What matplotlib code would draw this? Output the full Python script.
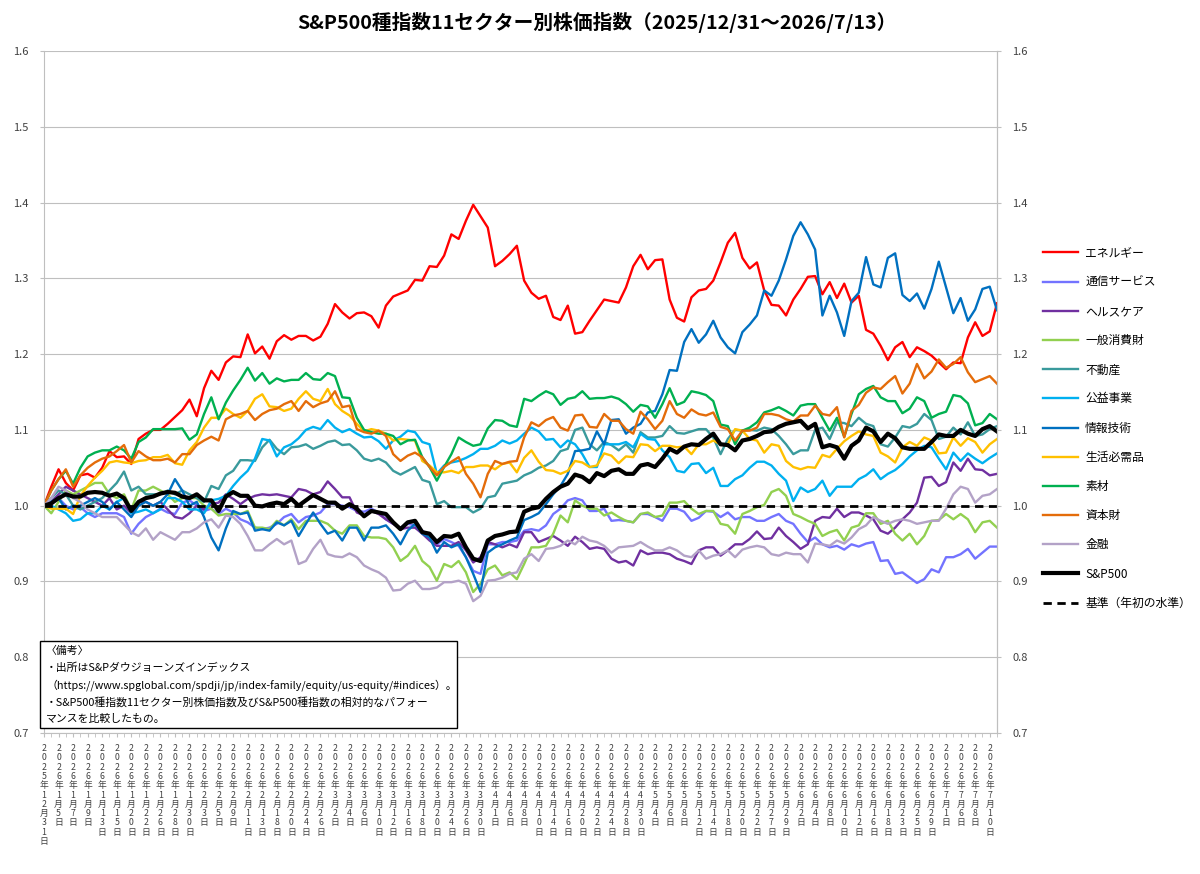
import matplotlib
matplotlib.use("Agg")
import matplotlib.pyplot as plt
from matplotlib.patches import Rectangle

plt.rcParams['font.family'] = ['Noto Sans CJK JP', 'DejaVu Sans']

# trading-day labels shown on the axis (every 2nd trading day, 132 days in total)
date_labels = [
    "2025年12月31日", "2026年1月5日", "2026年1月7日", "2026年1月9日", "2026年1月13日",
    "2026年1月15日", "2026年1月20日", "2026年1月22日", "2026年1月26日", "2026年1月28日",
    "2026年1月30日", "2026年2月3日", "2026年2月5日", "2026年2月9日", "2026年2月11日",
    "2026年2月13日", "2026年2月18日", "2026年2月20日", "2026年2月24日", "2026年2月26日",
    "2026年3月2日", "2026年3月4日", "2026年3月6日", "2026年3月10日", "2026年3月12日",
    "2026年3月16日", "2026年3月18日", "2026年3月20日", "2026年3月24日", "2026年3月26日",
    "2026年3月30日", "2026年4月1日", "2026年4月6日", "2026年4月8日", "2026年4月10日",
    "2026年4月14日", "2026年4月16日", "2026年4月20日", "2026年4月22日", "2026年4月24日",
    "2026年4月28日", "2026年4月30日", "2026年5月4日", "2026年5月6日", "2026年5月8日",
    "2026年5月12日", "2026年5月14日", "2026年5月18日", "2026年5月20日", "2026年5月22日",
    "2026年5月27日", "2026年5月29日", "2026年6月2日", "2026年6月4日", "2026年6月8日",
    "2026年6月10日", "2026年6月12日", "2026年6月16日", "2026年6月18日", "2026年6月23日",
    "2026年6月25日", "2026年6月29日", "2026年7月1日", "2026年7月6日", "2026年7月8日",
    "2026年7月10日",
]

energy = [
    1.000, 1.025, 1.048, 1.030, 1.020, 1.040, 1.042, 1.037, 1.050, 1.072,
    1.064, 1.065, 1.055, 1.088, 1.095, 1.100, 1.100, 1.108, 1.117, 1.126,
    1.140, 1.118, 1.155, 1.178, 1.166, 1.189, 1.197, 1.196, 1.226, 1.201,
    1.210, 1.194, 1.217, 1.225, 1.219, 1.224, 1.224, 1.218, 1.223, 1.240,
    1.266, 1.255, 1.247, 1.254, 1.255, 1.250, 1.235, 1.264, 1.276, 1.280,
    1.284, 1.298, 1.297, 1.316, 1.315, 1.330, 1.358, 1.352, 1.376, 1.397,
    1.382, 1.367, 1.316, 1.323, 1.332, 1.343, 1.297, 1.281, 1.273, 1.277,
    1.249, 1.245, 1.264, 1.227, 1.229, 1.244, 1.258, 1.272, 1.270, 1.268,
    1.288, 1.316, 1.331, 1.312, 1.324, 1.325, 1.272, 1.248, 1.243, 1.275,
    1.284, 1.286, 1.297, 1.321, 1.347, 1.360, 1.327, 1.313, 1.321, 1.284,
    1.265, 1.264, 1.251, 1.272, 1.286, 1.302, 1.303, 1.279, 1.295, 1.274,
    1.293, 1.268, 1.277, 1.232, 1.227, 1.211, 1.192, 1.209, 1.216, 1.196,
    1.209, 1.204, 1.198, 1.189, 1.180, 1.189, 1.188, 1.222, 1.242, 1.224,
    1.230, 1.267,
]
comm = [
    1.000, 1.005, 1.010, 1.000, 0.995, 0.998, 0.990, 0.985, 0.990, 0.990,
    0.990, 0.985, 0.963, 0.976, 0.985, 0.990, 0.996, 0.991, 0.989, 1.004,
    1.007, 1.000, 0.993, 0.996, 0.989, 0.996, 0.991, 0.982, 0.978, 0.971,
    0.969, 0.971, 0.976, 0.985, 0.989, 0.978, 0.985, 0.987, 0.991, 1.002,
    1.002, 1.000, 0.998, 0.993, 0.992, 0.996, 0.991, 0.982, 0.976, 0.971,
    0.976, 0.974, 0.967, 0.960, 0.949, 0.956, 0.952, 0.947, 0.932, 0.914,
    0.910, 0.949, 0.949, 0.952, 0.952, 0.954, 0.967, 0.969, 0.967, 0.974,
    0.989, 0.996, 1.007, 1.010, 1.007, 0.993, 0.993, 0.996, 0.980, 0.981,
    0.980, 0.978, 0.989, 0.989, 0.985, 0.980, 0.996, 0.996, 0.992, 0.980,
    0.984, 0.993, 0.992, 0.985, 0.991, 0.982, 0.985, 0.985, 0.980, 0.980,
    0.985, 0.989, 0.980, 0.976, 0.963, 0.952, 0.958, 0.949, 0.945, 0.947,
    0.942, 0.949, 0.946, 0.950, 0.952, 0.927, 0.928, 0.910, 0.912, 0.905,
    0.898, 0.903, 0.916, 0.912, 0.932, 0.932, 0.936, 0.943, 0.930, 0.938,
    0.946, 0.946,
]
health = [
    1.000, 1.005, 1.015, 1.025, 1.020, 1.015, 1.010, 1.005, 1.000, 1.010,
    0.995, 1.000, 0.990, 1.005, 1.005, 1.000, 1.005, 0.995, 0.985, 0.983,
    0.990, 1.000, 0.995, 1.002, 1.004, 1.015, 1.009, 1.002, 1.009, 1.013,
    1.015, 1.014, 1.015, 1.013, 1.011, 1.022, 1.020, 1.015, 1.018, 1.032,
    1.022, 1.011, 1.011, 0.991, 0.987, 0.993, 0.989, 0.982, 0.976, 0.969,
    0.971, 0.971, 0.963, 0.954, 0.947, 0.947, 0.947, 0.952, 0.941, 0.925,
    0.932, 0.952, 0.949, 0.945, 0.949, 0.945, 0.965, 0.965, 0.952, 0.956,
    0.960, 0.954, 0.947, 0.959, 0.952, 0.943, 0.945, 0.943, 0.930, 0.925,
    0.927, 0.921, 0.941, 0.936, 0.938, 0.938, 0.936, 0.930, 0.927, 0.923,
    0.941, 0.945, 0.945, 0.934, 0.941, 0.949, 0.949, 0.956, 0.966, 0.956,
    0.957, 0.971, 0.960, 0.952, 0.943, 0.949, 0.980, 0.985, 0.984, 0.996,
    0.985, 0.991, 0.991, 0.987, 0.982, 0.967, 0.963, 0.971, 0.982, 0.991,
    1.004, 1.037, 1.038, 1.026, 1.031, 1.057, 1.046, 1.062, 1.048, 1.047,
    1.040, 1.042,
]
discretionary = [
    1.000, 0.990, 1.005, 1.020, 1.015, 1.020, 1.025, 1.030, 1.030, 1.015,
    1.010, 1.015, 0.995, 1.020, 1.020, 1.025, 1.020, 1.015, 1.005, 1.010,
    1.010, 1.010, 1.000, 0.996, 0.987, 0.989, 0.989, 0.989, 0.993, 0.971,
    0.971, 0.969, 0.980, 0.974, 0.982, 0.969, 0.980, 0.980, 0.980, 0.976,
    0.967, 0.963, 0.974, 0.974, 0.960, 0.958, 0.958, 0.956, 0.945, 0.927,
    0.934, 0.947, 0.927, 0.919, 0.901, 0.923, 0.919, 0.927, 0.912, 0.886,
    0.897, 0.916, 0.921, 0.908, 0.912, 0.903, 0.923, 0.945, 0.945, 0.947,
    0.963, 0.987, 0.978, 1.007, 1.000, 0.996, 0.996, 0.987, 0.991, 0.985,
    0.980, 0.978, 0.989, 0.991, 0.985, 0.987, 1.004, 1.004, 1.006, 0.996,
    0.989, 0.993, 0.993, 0.976, 0.974, 0.963, 0.989, 0.993, 0.998, 1.001,
    1.018, 1.022, 1.013, 0.989, 0.985, 0.980, 0.976, 0.960, 0.965, 0.968,
    0.954, 0.971, 0.974, 0.990, 0.990, 0.976, 0.980, 0.963, 0.954, 0.963,
    0.949, 0.960, 0.980, 0.981, 0.989, 0.982, 0.989, 0.982, 0.965, 0.978,
    0.980, 0.971,
]
real_estate = [
    1.000, 1.010, 1.020, 1.015, 1.000, 0.995, 1.000, 1.005, 1.010, 1.020,
    1.030, 1.045, 1.020, 1.025, 1.015, 1.015, 1.015, 1.020, 1.015, 1.020,
    1.015, 1.010, 1.005, 1.026, 1.022, 1.040, 1.046, 1.060, 1.060, 1.059,
    1.077, 1.087, 1.075, 1.068, 1.077, 1.078, 1.081, 1.075, 1.079, 1.084,
    1.086, 1.080, 1.081, 1.073, 1.062, 1.059, 1.062, 1.057, 1.046, 1.041,
    1.046, 1.051, 1.034, 1.031, 1.002, 1.006, 0.998, 0.998, 0.998, 0.991,
    0.996, 1.011, 1.013, 1.029, 1.031, 1.033, 1.040, 1.044, 1.050, 1.053,
    1.059, 1.072, 1.075, 1.100, 1.103, 1.081, 1.073, 1.084, 1.080, 1.073,
    1.081, 1.070, 1.097, 1.090, 1.090, 1.092, 1.105, 1.096, 1.095, 1.098,
    1.101, 1.101, 1.090, 1.068, 1.088, 1.100, 1.099, 1.100, 1.099, 1.103,
    1.101, 1.092, 1.081, 1.068, 1.073, 1.073, 1.100, 1.103, 1.088, 1.110,
    1.109, 1.105, 1.116, 1.108, 1.105, 1.081, 1.078, 1.090, 1.105, 1.103,
    1.108, 1.121, 1.113, 1.088, 1.091, 1.103, 1.094, 1.110, 1.092, 1.094,
    1.101, 1.105,
]
utilities = [
    1.000, 1.000, 0.995, 0.990, 0.980, 0.982, 0.990, 0.990, 1.000, 0.995,
    1.005, 1.010, 0.990, 0.992, 0.995, 0.990, 0.995, 1.010, 1.010, 1.005,
    0.995, 0.995, 0.990, 1.007, 1.009, 1.013, 1.026, 1.037, 1.046, 1.062,
    1.088, 1.086, 1.065, 1.077, 1.081, 1.089, 1.100, 1.104, 1.101, 1.113,
    1.103, 1.097, 1.101, 1.095, 1.090, 1.091, 1.085, 1.075, 1.086, 1.091,
    1.099, 1.097, 1.084, 1.081, 1.042, 1.053, 1.057, 1.059, 1.063, 1.068,
    1.075, 1.075, 1.079, 1.086, 1.082, 1.086, 1.095, 1.103, 1.098, 1.087,
    1.088, 1.077, 1.086, 1.081, 1.068, 1.051, 1.051, 1.081, 1.081, 1.081,
    1.084, 1.077, 1.095, 1.088, 1.087, 1.073, 1.064, 1.046, 1.044, 1.055,
    1.056, 1.043, 1.050, 1.026, 1.026, 1.035, 1.040, 1.050, 1.058, 1.058,
    1.053, 1.042, 1.033, 1.006, 1.024, 1.018, 1.022, 1.033, 1.013, 1.025,
    1.025, 1.025, 1.035, 1.040, 1.048, 1.035, 1.042, 1.047, 1.055, 1.065,
    1.073, 1.079, 1.077, 1.062, 1.048, 1.070, 1.059, 1.069, 1.062, 1.056,
    1.063, 1.069,
]
info_tech = [
    1.000, 1.005, 1.010, 0.995, 1.000, 1.000, 1.005, 1.010, 1.005, 0.995,
    1.005, 0.995, 0.985, 1.000, 1.005, 1.000, 1.005, 1.015, 1.035, 1.020,
    1.000, 1.005, 0.985, 0.958, 0.941, 0.970, 0.993, 0.989, 0.991, 0.967,
    0.969, 0.967, 0.978, 0.974, 0.980, 0.960, 0.976, 0.991, 0.976, 0.963,
    0.967, 0.954, 0.971, 0.971, 0.954, 0.971, 0.971, 0.974, 0.963, 0.949,
    0.967, 0.976, 0.963, 0.958, 0.938, 0.952, 0.945, 0.949, 0.932, 0.910,
    0.886, 0.938, 0.945, 0.949, 0.954, 0.958, 0.981, 0.985, 0.990, 1.002,
    1.015, 1.026, 1.042, 1.072, 1.073, 1.075, 1.098, 1.081, 1.113, 1.114,
    1.095, 1.103, 1.108, 1.123, 1.125, 1.147, 1.179, 1.178, 1.216, 1.233,
    1.215, 1.226, 1.244, 1.222, 1.209, 1.201, 1.229, 1.239, 1.251, 1.284,
    1.277, 1.297, 1.325, 1.356, 1.374, 1.358, 1.338, 1.251, 1.277, 1.255,
    1.224, 1.270, 1.281, 1.328, 1.292, 1.288, 1.327, 1.333, 1.278, 1.270,
    1.280, 1.260, 1.286, 1.322, 1.288, 1.254, 1.274, 1.244, 1.259, 1.286,
    1.289, 1.258,
]
staples = [
    1.000, 0.996, 0.996, 0.996, 0.989, 1.013, 1.026, 1.037, 1.046, 1.057,
    1.059, 1.057, 1.056, 1.059, 1.060, 1.064, 1.064, 1.067, 1.056, 1.054,
    1.073, 1.084, 1.103, 1.116, 1.116, 1.128, 1.121, 1.116, 1.125, 1.141,
    1.147, 1.131, 1.130, 1.125, 1.128, 1.141, 1.151, 1.141, 1.138, 1.154,
    1.134, 1.125, 1.119, 1.108, 1.098, 1.101, 1.099, 1.095, 1.086, 1.088,
    1.087, 1.086, 1.059, 1.053, 1.044, 1.044, 1.046, 1.043, 1.051, 1.051,
    1.053, 1.053, 1.048, 1.055, 1.057, 1.044, 1.063, 1.073, 1.058, 1.047,
    1.046, 1.042, 1.046, 1.059, 1.057, 1.051, 1.053, 1.069, 1.066, 1.056,
    1.065, 1.064, 1.081, 1.080, 1.072, 1.079, 1.079, 1.077, 1.078, 1.068,
    1.081, 1.081, 1.086, 1.081, 1.081, 1.101, 1.099, 1.088, 1.086, 1.070,
    1.081, 1.079, 1.059, 1.051, 1.048, 1.051, 1.050, 1.067, 1.064, 1.075,
    1.085, 1.092, 1.098, 1.094, 1.092, 1.070, 1.065, 1.057, 1.077, 1.084,
    1.079, 1.090, 1.086, 1.069, 1.070, 1.090, 1.079, 1.089, 1.084, 1.070,
    1.081, 1.088,
]
materials = [
    1.000, 1.020, 1.035, 1.046, 1.029, 1.050, 1.065, 1.070, 1.073, 1.073,
    1.078, 1.073, 1.062, 1.084, 1.090, 1.101, 1.101, 1.101, 1.101, 1.102,
    1.087, 1.094, 1.121, 1.143, 1.114, 1.136, 1.152, 1.166, 1.182, 1.165,
    1.175, 1.161, 1.168, 1.164, 1.166, 1.166, 1.175, 1.167, 1.166, 1.175,
    1.171, 1.143, 1.142, 1.116, 1.100, 1.097, 1.095, 1.095, 1.092, 1.081,
    1.086, 1.087, 1.064, 1.051, 1.033, 1.051, 1.068, 1.090, 1.084, 1.079,
    1.081, 1.102, 1.113, 1.112, 1.106, 1.104, 1.141, 1.138, 1.145, 1.151,
    1.147, 1.133, 1.141, 1.143, 1.151, 1.141, 1.142, 1.142, 1.144, 1.141,
    1.134, 1.124, 1.133, 1.131, 1.116, 1.134, 1.155, 1.133, 1.137, 1.151,
    1.149, 1.146, 1.138, 1.107, 1.105, 1.081, 1.099, 1.103, 1.110, 1.123,
    1.126, 1.130, 1.125, 1.119, 1.132, 1.134, 1.134, 1.116, 1.099, 1.116,
    1.091, 1.121, 1.147, 1.154, 1.158, 1.143, 1.138, 1.138, 1.122, 1.128,
    1.143, 1.138, 1.116, 1.121, 1.124, 1.146, 1.144, 1.135, 1.106, 1.109,
    1.121, 1.114,
]
industrials = [
    1.000, 1.020, 1.035, 1.048, 1.025, 1.040, 1.050, 1.057, 1.062, 1.065,
    1.072, 1.080, 1.057, 1.072, 1.065, 1.060, 1.060, 1.062, 1.057, 1.068,
    1.068, 1.080, 1.086, 1.091, 1.086, 1.114, 1.119, 1.121, 1.125, 1.113,
    1.121, 1.126, 1.128, 1.134, 1.138, 1.125, 1.138, 1.130, 1.135, 1.138,
    1.151, 1.130, 1.132, 1.101, 1.097, 1.095, 1.099, 1.092, 1.068, 1.059,
    1.066, 1.070, 1.064, 1.051, 1.040, 1.051, 1.058, 1.064, 1.042, 1.029,
    1.011, 1.042, 1.059, 1.055, 1.058, 1.059, 1.090, 1.110, 1.105, 1.113,
    1.117, 1.103, 1.099, 1.119, 1.120, 1.104, 1.103, 1.121, 1.112, 1.112,
    1.101, 1.095, 1.124, 1.114, 1.101, 1.112, 1.138, 1.121, 1.116, 1.127,
    1.121, 1.119, 1.123, 1.104, 1.101, 1.086, 1.099, 1.099, 1.103, 1.121,
    1.121, 1.119, 1.114, 1.111, 1.119, 1.119, 1.132, 1.121, 1.119, 1.130,
    1.090, 1.125, 1.133, 1.149, 1.156, 1.154, 1.163, 1.171, 1.148, 1.161,
    1.187, 1.168, 1.177, 1.193, 1.182, 1.187, 1.196, 1.176, 1.163, 1.167,
    1.171, 1.161,
]
financials = [
    1.000, 1.010, 1.025, 1.020, 1.010, 1.005, 0.995, 0.990, 0.985, 0.985,
    0.985, 0.975, 0.965, 0.960, 0.970, 0.955, 0.965, 0.960, 0.955, 0.965,
    0.965, 0.970, 0.978, 0.982, 0.971, 0.987, 0.985, 0.976, 0.960, 0.941,
    0.941, 0.949, 0.956, 0.949, 0.954, 0.923, 0.927, 0.943, 0.955, 0.936,
    0.933, 0.932, 0.937, 0.932, 0.921, 0.916, 0.912, 0.905, 0.888, 0.889,
    0.897, 0.901, 0.890, 0.890, 0.892, 0.899, 0.899, 0.901, 0.897, 0.874,
    0.881, 0.901, 0.902, 0.905, 0.910, 0.912, 0.930, 0.936, 0.927, 0.943,
    0.944, 0.947, 0.954, 0.949, 0.959, 0.954, 0.952, 0.947, 0.938, 0.945,
    0.946, 0.947, 0.952, 0.946, 0.941, 0.941, 0.945, 0.941, 0.934, 0.932,
    0.941, 0.930, 0.934, 0.936, 0.941, 0.932, 0.942, 0.945, 0.947, 0.945,
    0.936, 0.934, 0.938, 0.936, 0.936, 0.925, 0.950, 0.949, 0.947, 0.954,
    0.950, 0.958, 0.969, 0.974, 0.985, 0.980, 0.976, 0.980, 0.982, 0.980,
    0.976, 0.978, 0.980, 0.980, 0.996, 1.015, 1.025, 1.022, 1.004, 1.013,
    1.015, 1.022,
]
sp500 = [
    1.000, 1.003, 1.010, 1.015, 1.012, 1.012, 1.017, 1.018, 1.017, 1.013,
    1.016, 1.010, 0.993, 1.005, 1.010, 1.012, 1.016, 1.018, 1.017, 1.012,
    1.010, 1.015, 1.007, 1.007, 0.993, 1.012, 1.018, 1.013, 1.013, 1.000,
    0.999, 1.002, 1.004, 1.002, 1.009, 1.000, 1.007, 1.014, 1.009, 1.004,
    1.004, 0.996, 1.002, 0.996, 0.986, 0.993, 0.991, 0.989, 0.978, 0.969,
    0.978, 0.980, 0.965, 0.963, 0.952, 0.960, 0.959, 0.963, 0.945, 0.930,
    0.927, 0.954, 0.960, 0.962, 0.965, 0.966, 0.992, 0.996, 0.998, 1.009,
    1.018, 1.025, 1.029, 1.041, 1.038, 1.031, 1.043, 1.039, 1.046, 1.048,
    1.042, 1.042, 1.053, 1.055, 1.051, 1.062, 1.075, 1.070, 1.078, 1.081,
    1.080, 1.088, 1.095, 1.081, 1.080, 1.073, 1.086, 1.088, 1.092, 1.097,
    1.098, 1.104, 1.108, 1.110, 1.112, 1.102, 1.108, 1.077, 1.080, 1.077,
    1.062, 1.079, 1.086, 1.103, 1.098, 1.084, 1.095, 1.089, 1.077, 1.075,
    1.075, 1.075, 1.084, 1.094, 1.092, 1.092, 1.100, 1.095, 1.092, 1.101,
    1.105, 1.098,
]
base_level = 1.0

sectors = [
    ("エネルギー", energy, "#FF0000"),
    ("通信サービス", comm, "#7373FF"),
    ("ヘルスケア", health, "#7030A0"),
    ("一般消費財", discretionary, "#92D050"),
    ("不動産", real_estate, "#3A9A9C"),
    ("公益事業", utilities, "#00B0F0"),
    ("情報技術", info_tech, "#0070C0"),
    ("生活必需品", staples, "#FFC000"),
    ("素材", materials, "#00B050"),
    ("資本財", industrials, "#E46C0A"),
    ("金融", financials, "#B3A2C7"),
]

n = len(sp500)
x = list(range(n))

fig = plt.figure(figsize=(12, 8.74), dpi=100)
ax = fig.add_axes([44 / 1200, 1 - 733 / 874, (997 - 44) / 1200, (733 - 51) / 874])

for name, vals, col in sectors:
    ax.plot(x, vals, color=col, lw=1.7, label=name)
ax.plot(x, sp500, color="black", lw=3.0, label="S&P500")
ax.plot(x, [base_level] * n, color="black", lw=2.0, ls=(0, (3, 2)), label="基準（年初の水準）")

ax.set_xlim(0, n - 1)
ax.set_ylim(0.7, 1.6)
yt = [0.7 + 0.1 * k for k in range(10)]
ax.set_yticks(yt)
ax.set_yticklabels([f"{v:.1f}" for v in yt])
ax.grid(axis="y", color="#BFBFBF", lw=0.8)
ax.set_axisbelow(True)

ax.set_xticks(range(0, n, 2))
ax.set_xticklabels(["\n".join(s) for s in date_labels], fontsize=6.3,
                   va="top", linespacing=1.04, color="#404040")
ax.set_xticks(range(n), minor=True)
ax.tick_params(axis="x", which="both", length=3, color="#BFBFBF", pad=5)
ax.tick_params(axis="y", length=3, color="#BFBFBF", labelsize=8, labelcolor="#404040", pad=8)

ax.spines["top"].set_visible(False)
for side in ["left", "right", "bottom"]:
    ax.spines[side].set_color("#BFBFBF")

ax2 = ax.twinx()
ax2.set_ylim(0.7, 1.6)
ax2.set_yticks(yt)
ax2.set_yticklabels([f"{v:.1f}" for v in yt])
ax2.tick_params(axis="y", length=3, color="#BFBFBF", labelsize=8, labelcolor="#404040", pad=8)
for side in ["top", "left", "bottom"]:
    ax2.spines[side].set_visible(False)
ax2.spines["right"].set_color("#BFBFBF")

fig.text(0.4975, 1 - 22 / 874, "S&P500種指数11セクター別株価指数（2025/12/31～2026/7/13）",
         ha="center", va="center", fontsize=14.2, fontweight="bold")

handles, labels = ax.get_legend_handles_labels()
leg = fig.legend(handles, labels, loc="upper left", bbox_to_anchor=(1032 / 1200, 1 - 236 / 874),
                 frameon=False, fontsize=8.5, handlelength=3.0, handletextpad=0.6,
                 labelspacing=1.37)

# notes box
fig.add_artist(Rectangle((40 / 1200, 1 - 728 / 874), 417 / 1200, 87 / 874,
                         transform=fig.transFigure, facecolor="white",
                         edgecolor="black", lw=1.0, zorder=5))
notes = [
    "〈備考〉",
    "・出所はS&Pダウジョーンズインデックス",
    "（https://www.spglobal.com/spdji/jp/index-family/equity/us-equity/#indices）。",
    "・S&P500種指数11セクター別株価指数及びS&P500種指数の相対的なパフォー",
    "マンスを比較したもの。",
]
for k, line in enumerate(notes):
    fig.text(46 / 1200, 1 - (651 + 17 * k) / 874, line, ha="left", va="center",
             fontsize=7.8, zorder=6)

fig.savefig("out.png", dpi=100)
